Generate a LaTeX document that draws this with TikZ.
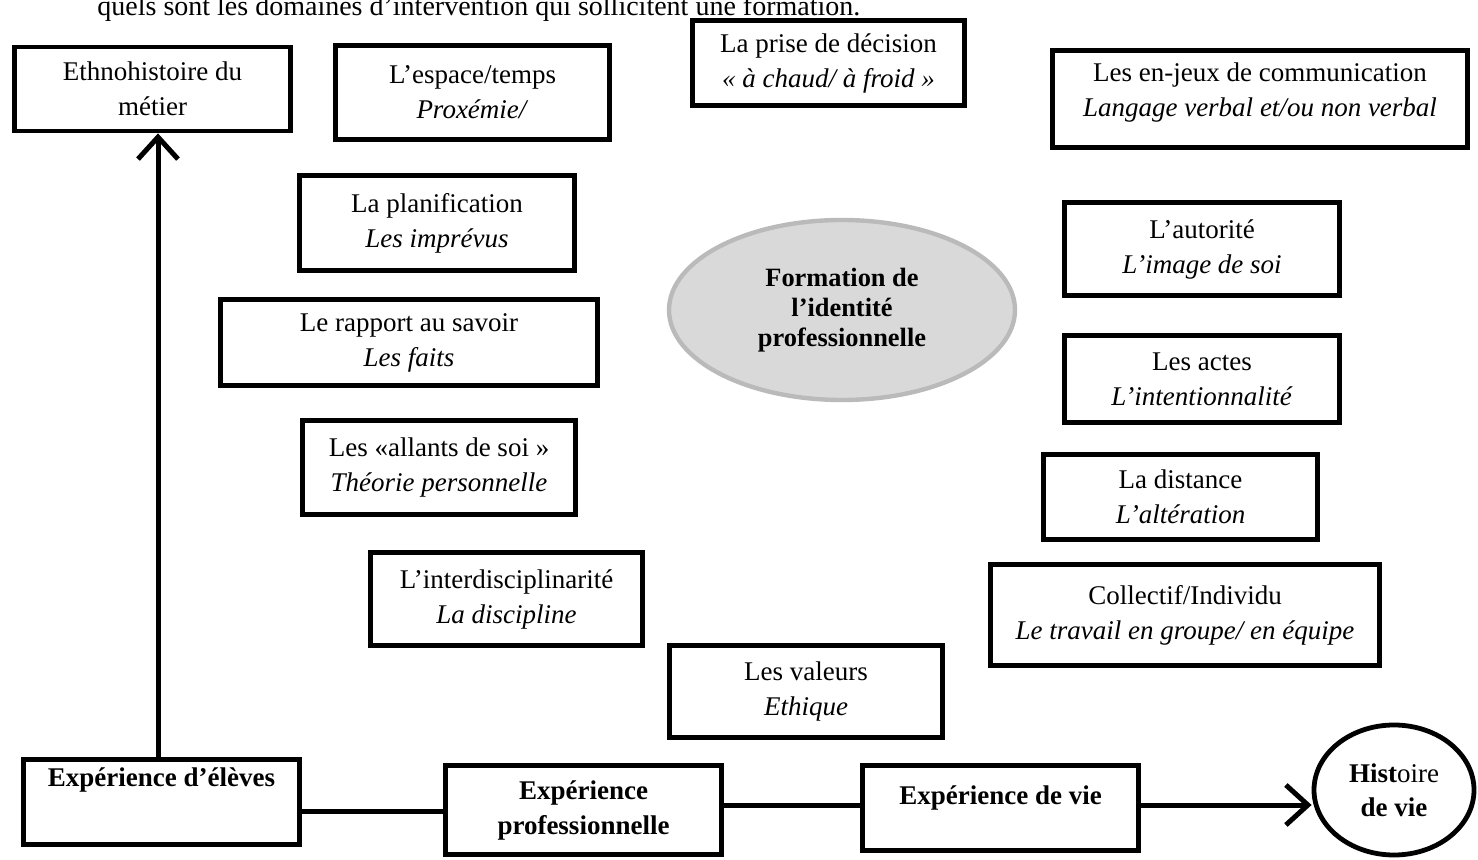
\documentclass[tikz,border=0pt]{standalone}
\usepackage{fontspec}
\setmainfont{Liberation Serif}
\usetikzlibrary{arrows.meta,shapes.geometric}
\begin{document}
\begin{tikzpicture}[x=0.5pt,y=-0.5pt,
  txt/.style={font=\fontsize{13.5pt}{17.5pt}\selectfont},
  bx/.style={txt, draw, line width=2.4pt, align=center, inner sep=0pt},
  bbx/.style={bx, font=\fontsize{13.5pt}{17.5pt}\selectfont\bfseries},
  sz/.style 2 args={minimum width=#1*0.5pt, minimum height=#2*0.5pt},
  conn/.style={line width=2.5pt},
  arr/.style={conn, -{Straight Barb[length=11pt,width=20pt]}}]
\useasboundingbox (0,0) rectangle (1478,860);
\clip (0,0) rectangle (1478,860);

\node[anchor=base west, inner sep=0pt, font=\fontsize{14pt}{17pt}\selectfont] (intro) at (97,16) {quels sont les domaines d’intervention qui sollicitent une formation.};

\node[bx, sz={276}{84}] (ethno) at (152.5,89) {Ethnohistoire du\\métier};
\node[bx, sz={274}{94}] (espace) at (472.5,92.5) {L’espace/temps\\\textit{Proxémie/}};
\node[bx, sz={272}{85}] (prise) at (828.5,63) {La prise de décision\\\textit{« à chaud/ à froid »}};
\node[bx, sz={415}{97}, text depth=9.5pt] (enjeux) at (1260,99) {Les en-jeux de communication\\\textit{Langage verbal et/ou non verbal}};
\node[bx, sz={275}{95}] (planif) at (437,223) {La planification\\\textit{Les imprévus}};
\node[bx, sz={275}{93}] (autorite) at (1202,249) {L’autorité\\\textit{L’image de soi}};
\node[bx, sz={377}{86}] (rapport) at (409,342.5) {Le rapport au savoir\\\textit{Les faits}};
\node[bx, sz={275}{87}] (actes) at (1202,379) {Les actes\\\textit{L’intentionnalité}};
\node[bx, sz={273}{94}] (allants) at (439,467.5) {Les «allants de soi »\\\textit{Théorie personnelle}};
\node[bx, sz={274}{85}] (distance) at (1180.5,497) {La distance\\\textit{L’altération}};
\node[bx, sz={272}{93}] (interdisc) at (506.5,599) {L’interdisciplinarité\\\textit{La discipline}};
\node[bx, sz={389}{101}] (collectif) at (1185,615) {Collectif/Individu\\\textit{Le travail en groupe/ en équipe}};
\node[bx, sz={273}{92}] (valeurs) at (806,691.5) {Les valeurs\\\textit{Ethique}};

\node[ellipse, fill=black!15, draw=black!27, line width=2.2pt, minimum width=173pt, minimum height=90pt, inner sep=0pt, align=center,
      font=\fontsize{13.2pt}{15pt}\selectfont\bfseries] (formation) at (842,310) {Formation de\\l’identité\\professionnelle};

\node[bbx, sz={276}{85}, text depth=25pt] (eleves) at (161.5,802) {Expérience d’élèves};
\node[bbx, sz={276}{89}] (pro) at (583.5,810) {Expérience\\professionnelle};
\node[bbx, sz={276}{85}, text depth=13pt] (vie) at (1000.5,808) {Expérience de vie};
\node[ellipse, draw, line width=2.4pt, minimum width=80pt, minimum height=65pt, inner sep=0pt, align=center,
      font=\fontsize{13.5pt}{17pt}\selectfont] (histoire) at (1394,790) {\textbf{Hist}oire\\\textbf{de vie}};

\coordinate (shaft) at (158,0);
\coordinate (l1) at (0,811);
\coordinate (l2) at (0,805);
\draw[arr] (shaft |- eleves.north) -- (shaft |- ethno.south);
\draw[conn] (eleves.east |- l1) -- (pro.west |- l1);
\draw[conn] (pro.east |- l2) -- (vie.west |- l2);
\draw[arr] (vie.east |- l2) -- (histoire.west |- l2);
\end{tikzpicture}
\end{document}
